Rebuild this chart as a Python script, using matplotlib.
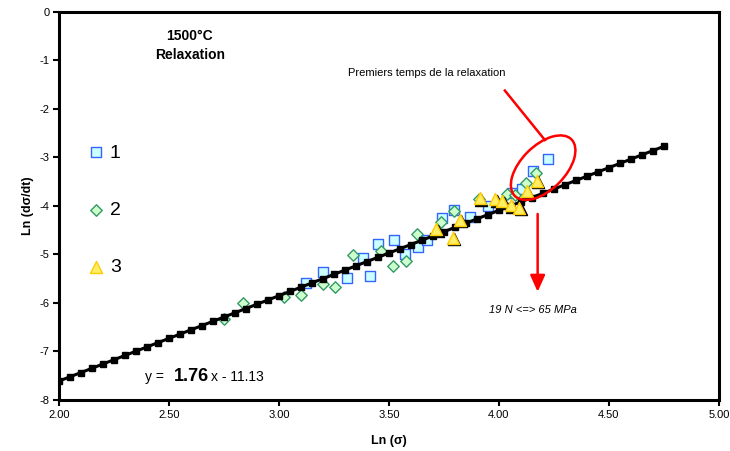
import numpy as np
import matplotlib
matplotlib.use("Agg")
import matplotlib.pyplot as plt
from matplotlib.patches import Ellipse
from matplotlib.transforms import ScaledTranslation, offset_copy

plt.rcParams["font.family"] = ["Liberation Sans", "DejaVu Sans"]
plt.rcParams["axes.unicode_minus"] = False

# =========================
# DATA
# =========================
x1 = [3.123, 3.199, 3.310, 3.412, 3.383, 3.451, 3.521, 3.573, 3.634, 3.675,
      3.740, 3.795, 3.868, 3.952, 4.058, 4.103, 4.156, 4.221]
y1 = [-5.58, -5.36, -5.48, -5.45, -5.08, -4.78, -4.70, -4.99, -4.84, -4.70,
      -4.25, -4.09, -4.22, -4.01, -3.74, -3.64, -3.27, -3.03]

x2 = [2.750, 2.838, 3.024, 3.099, 3.201, 3.256, 3.338, 3.462, 3.520, 3.577,
      3.629, 3.736, 3.795, 3.910, 4.036, 4.073, 4.123, 4.170]
y2 = [-6.32, -5.99, -5.87, -5.84, -5.61, -5.66, -5.02, -4.92, -5.23, -5.13,
      -4.58, -4.34, -4.10, -3.86, -3.75, -3.78, -3.53, -3.31]

x3 = [3.716, 3.792, 3.823, 3.914, 3.984, 4.016, 4.055, 4.093, 4.127, 4.171]
y3 = [-4.48, -4.65, -4.28, -3.84, -3.86, -3.90, -3.98, -4.04, -3.70, -3.48]

series_labels = ["1", "2", "3"]

# trend line  y = 1.76 x - 11.13, drawn from 2.00 to 4.75 every 0.05
slope = 1.76
intercept = -11.13
fit_start, fit_end, fit_step = 2.00, 4.75, 0.05

xticks = [2.0, 2.5, 3.0, 3.5, 4.0, 4.5, 5.0]
yticks = [0, -1, -2, -3, -4, -5, -6, -7, -8]

# =========================
# FIGURE
# =========================
fig = plt.figure(figsize=(7.3, 4.51), dpi=100)
ax = fig.add_axes([0.0808, 0.1131, 0.904, 0.8603])

s1 = ax.scatter(x1, y1, marker="s", s=62, facecolor="#CCFFFF",
                edgecolor="#3366FF", linewidth=1.0, zorder=3, label=series_labels[0])
s2 = ax.scatter(x2, y2, marker="D", s=34, facecolor="#CCFFCC",
                edgecolor="#339966", linewidth=1.0, zorder=3, label=series_labels[1])

# trend line with its black square markers
fit_x = np.round(np.arange(fit_start, fit_end + fit_step / 2, fit_step), 2)
fit_y = slope * fit_x + intercept
ax.plot(fit_x, fit_y, color="black", linewidth=2.2, marker="s",
        markersize=4.5, zorder=4)

# triangles with a black drop shadow
shadow = offset_copy(ax.transData, fig=fig, x=1.2, y=-1.5, units="dots")
ax.scatter(x3, y3, marker="^", s=75, facecolor="black", edgecolor="black",
           linewidth=1.0, transform=shadow, zorder=5)
s3 = ax.scatter(x3, y3, marker="^", s=75, facecolor="#FFEE66",
                edgecolor="#FFCC00", linewidth=1.0, zorder=6, label=series_labels[2])

# axes
ax.set_xlim(2, 5)
ax.set_ylim(-8, 0)
ax.set_xticks(xticks)
ax.set_xticklabels([f"{v:.2f}" for v in xticks])
ax.set_yticks(yticks)
ax.set_yticklabels([str(v) for v in yticks])
ax.tick_params(direction="out", length=4, width=1.5, labelsize=8, pad=3)
for sp in ax.spines.values():
    sp.set_linewidth(2.2)

ax.set_xlabel("Ln (σ)", fontsize=9, fontweight="bold", labelpad=11)
ax.set_ylabel("Ln (dσ/dt)", fontsize=9, fontweight="bold", labelpad=4)

# legend
leg = ax.legend(handles=[s1, s2, s3], loc="upper left",
                bbox_to_anchor=(0.033, 0.68), frameon=False, fontsize=14,
                handlelength=0.8, handletextpad=0.3, labelspacing=2.05,
                borderaxespad=0)

# =========================
# TEXTS / ANNOTATIONS
# =========================
ax.text(0.198, 0.955, "1500°C\nRelaxation", transform=ax.transAxes,
        ha="center", va="top", fontsize=10, fontweight="bold", linespacing=1.45)

ax.text(2.391, -7.61, "y =", fontsize=10, ha="left", va="baseline")
ax.text(2.523, -7.61, f"{slope:.2f}", fontsize=13, fontweight="bold",
        ha="left", va="baseline")
ax.text(2.691, -7.61, f"x - {abs(intercept):.2f}", fontsize=10,
        ha="left", va="baseline")

ax.text(3.673, -1.26, "Premiers temps de la relaxation", fontsize=8,
        ha="center", va="center")
ax.plot([4.027, 4.209], [-1.62, -2.64], color="red", linewidth=1.8, zorder=7)

ell_tr = fig.dpi_scale_trans + ScaledTranslation(4.201, -3.21, ax.transData)
ax.add_patch(Ellipse((0, 0), width=0.80, height=0.44, angle=45,
                     transform=ell_tr, fill=False, edgecolor="red",
                     linewidth=1.8, zorder=7))

ax.annotate("", xy=(4.176, -5.77), xytext=(4.176, -4.165),
            arrowprops=dict(arrowstyle="-|>,head_length=1.0,head_width=0.45",
                            color="red", linewidth=1.8, shrinkA=0, shrinkB=0),
            zorder=7)
ax.text(4.155, -6.14, "19 N <=> 65 MPa", fontsize=8, style="italic",
        ha="center", va="center")

fig.savefig("out.png", dpi=100)
